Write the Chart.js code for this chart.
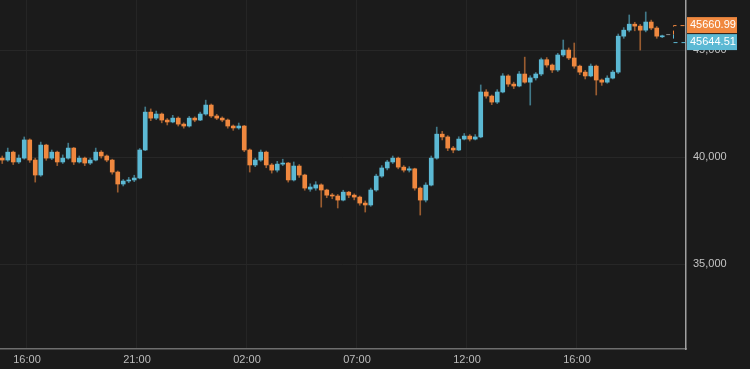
<!DOCTYPE html>
<html>
<head>
<meta charset="utf-8">
<script src="https://cdn.jsdelivr.net/npm/chart.js@4.4.1/dist/chart.umd.min.js"></script>
<style>
  html, body { margin: 0; padding: 0; background: #1b1b1b; }
  #wrap { width: 750px; height: 369px; }
</style>
</head>
<body>
<div id="wrap"><canvas id="myChart" width="750" height="369"></canvas></div>
<script>
// 15 minute candles, time in hours after the first 16:00
let firstCandle = -1.125;
let candleStep = 0.25;

let opens = [
  39950, 39860, 40230, 39770, 39950, 40800, 39860, 39160, 40560, 39950,
  40230, 39770, 39950, 40420, 39770, 39950, 39720, 39860, 40230, 40050,
  39860, 39300, 38740, 38880, 38930, 39020, 40330, 42100, 41820, 42010,
  41730, 41640, 41820, 41540, 41450, 41820, 41730, 42010, 42430, 41920,
  41820, 41730, 41450, 41360, 41450, 40330, 39630, 39860, 40230, 39630,
  39390, 39670, 39720, 38930, 39580, 39160, 38500, 38550, 38700, 38460,
  38220, 38180, 37990, 38360, 38220, 38130, 37850, 37760, 38460, 39110,
  39490, 39770, 39950, 39530, 39390, 39450, 38550, 37990, 38690, 39950,
  41070, 40940, 40420, 40330, 40840, 40980, 40840, 40940, 43040, 42850,
  42570, 43040, 43790, 43410, 43320, 43880, 43500, 43700, 43880, 44550,
  44300, 44070, 44770, 45000, 44630, 44250, 43970, 43790, 44250, 43600,
  43500, 43690, 43970, 45650, 45930, 46210, 46120, 45930, 46310, 46030,
  45620
];

let highs = [
  40050, 40420, 40280, 40100, 40940, 40850, 39950, 40700, 40600, 40330,
  40280, 40100, 40650, 40450, 40050, 40000, 39950, 40420, 40300, 40100,
  39900, 39350, 38950, 39050, 39150, 40400, 42340, 42250, 42150, 42060,
  41800, 41950, 41880, 41600, 41900, 41880, 42100, 42660, 42480, 42000,
  41880, 41780, 41500, 41590, 41480, 40380, 39950, 40330, 40280, 39700,
  39800, 39900, 39750, 39770, 39650, 39200, 38750, 38850, 38750, 38500,
  38300, 38250, 38450, 38400, 38280, 38180, 37950, 38550, 39200, 39600,
  39850, 40050, 40000, 39600, 39550, 39480, 38600, 38800, 40050, 41400,
  41200, 41000, 40500, 40950, 41100, 41050, 41050, 43370, 43150, 42900,
  43150, 43900, 43850, 43500, 44000, 44670, 43800, 43950, 44630, 44650,
  44350, 44850, 45470, 45100, 45330, 44300, 44050, 44350, 44300, 43650,
  43800, 44050, 45750, 46050, 46640, 46300, 46200, 46780, 46400, 46100,
  45700
];

let lows = [
  39700, 39800, 39650, 39700, 39900, 39750, 38830, 39100, 39850, 39880,
  39600, 39700, 39900, 39650, 39720, 39600, 39650, 39820, 39950, 39780,
  39200, 38360, 38650, 38800, 38850, 38980, 40300, 41700, 41750, 41600,
  41500, 41600, 41450, 41350, 41400, 41650, 41700, 41950, 41850, 41750,
  41650, 41350, 41250, 41300, 40250, 39300, 39550, 39800, 39500, 39250,
  39300, 39600, 38830, 38880, 39050, 38450, 38400, 38450, 37660, 38100,
  38050, 37620, 37950, 38100, 38000, 37750, 37430, 37700, 38400, 39050,
  39400, 39700, 39450, 39300, 39300, 38450, 37290, 37900, 38650, 39900,
  40800, 40300, 40200, 40300, 40800, 40750, 40800, 40900, 42750, 42450,
  42500, 43000, 43300, 43200, 43280, 43450, 42430, 43600, 43800, 44200,
  43950, 44000, 44700, 44550, 44150, 43850, 43650, 43750, 42900, 43350,
  43450, 43650, 43900, 45550, 45850, 45900, 45000, 45850, 45950, 45550,
  45580
];

let closes = [
  39860, 40230, 39770, 39950, 40800, 39860, 39160, 40560, 39950, 40230,
  39770, 39950, 40420, 39770, 39950, 39720, 39860, 40230, 40050, 39860,
  39300, 38740, 38880, 38930, 39020, 40330, 42100, 41820, 42010, 41730,
  41640, 41820, 41540, 41450, 41820, 41730, 42010, 42430, 41920, 41820,
  41730, 41450, 41360, 41450, 40330, 39630, 39860, 40230, 39630, 39390,
  39670, 39720, 38930, 39580, 39160, 38550, 38600, 38700, 38460, 38220,
  38180, 37990, 38360, 38220, 38130, 37850, 37760, 38460, 39110, 39490,
  39770, 39950, 39530, 39390, 39450, 38550, 37990, 38690, 39950, 41070,
  40940, 40420, 40330, 40840, 40980, 40840, 40940, 43040, 42850, 42570,
  43040, 43790, 43410, 43320, 43880, 43500, 43700, 43880, 44550, 44300,
  44070, 44770, 45000, 44630, 44250, 43970, 43790, 44250, 43600, 43500,
  43690, 43970, 45650, 45930, 46210, 46120, 45930, 46310, 46030, 45650,
  45645
];

let tickHours = [0, 5, 10, 15, 20, 25];
let tickLabels = ['16:00', '21:00', '02:00', '07:00', '12:00', '16:00'];
let priceTicks = [35000, 40000, 45000];

let askPrice = 45660.99;
let bidPrice = 45644.51;

let upColor = '#5cb9d4';
let downColor = '#f0883f';
let upWick = 'rgba(92, 185, 212, 0.6)';
let downWick = 'rgba(240, 136, 63, 0.6)';

let candleTimes = closes.map((c, i) => firstCandle + i * candleStep);
let isUp = closes.map((c, i) => c >= opens[i]);

let wickData = candleTimes.map((t, i) => ({ x: t, y: [lows[i], highs[i]] }));
let bodyData = candleTimes.map((t, i) => ({
  x: t,
  y: [Math.min(opens[i], closes[i]), Math.max(opens[i], closes[i])],
}));

let background = {
  id: 'background',
  beforeDraw(chart) {
    let c = chart.ctx;
    c.save();
    c.fillStyle = '#1b1b1b';
    c.fillRect(0, 0, chart.width, chart.height);
    c.restore();
  },
};

let priceTags = {
  id: 'priceTags',
  afterDraw(chart) {
    let c = chart.ctx;
    let y = chart.scales.y;
    let x = chart.scales.x;
    let area = chart.chartArea;
    let yMid = (y.getPixelForValue(askPrice) + y.getPixelForValue(bidPrice)) / 2;
    let lastX = x.getPixelForValue(candleTimes[candleTimes.length - 1]);
    let bend = area.right - 13;
    let askY = yMid - 11;
    let bidY = yMid + 6;

    c.save();
    c.lineWidth = 1;
    c.setLineDash([4, 4]);

    c.strokeStyle = '#8a8a8a';
    c.beginPath();
    c.moveTo(lastX + 4, yMid - 1.5);
    c.lineTo(bend, yMid - 1.5);
    c.stroke();

    c.strokeStyle = downColor;
    c.beginPath();
    c.moveTo(bend + 0.5, yMid - 1.5);
    c.lineTo(bend + 0.5, askY + 0.5);
    c.lineTo(area.right, askY + 0.5);
    c.stroke();

    c.strokeStyle = upColor;
    c.beginPath();
    c.moveTo(bend + 0.5, yMid - 1.5);
    c.lineTo(bend + 0.5, bidY + 0.5);
    c.lineTo(area.right, bidY + 0.5);
    c.stroke();
    c.setLineDash([]);

    c.font = '11px "Liberation Sans", Arial, sans-serif';
    c.textBaseline = 'middle';
    c.textAlign = 'left';

    c.fillStyle = downColor;
    c.fillRect(area.right + 1, askY - 8, 50, 16);
    c.fillStyle = '#ffffff';
    c.fillText(askPrice.toFixed(2), area.right + 4, askY);

    c.fillStyle = upColor;
    c.fillRect(area.right + 1, bidY - 8, 50, 16);
    c.fillStyle = '#ffffff';
    c.fillText(bidPrice.toFixed(2), area.right + 4, bidY);
    c.restore();
  },
};

let ctx = document.getElementById('myChart').getContext('2d');
let myChart = new Chart(ctx, {
  type: 'bar',
  data: {
    datasets: [
      {
        label: 'Wick',
        data: wickData,
        backgroundColor: isUp.map((u) => (u ? upWick : downWick)),
        barThickness: 1,
        grouped: false,
        minBarLength: 1,
      },
      {
        label: 'Body',
        data: bodyData,
        backgroundColor: isUp.map((u) => (u ? upColor : downColor)),
        barThickness: 4,
        grouped: false,
        minBarLength: 1,
      },
    ],
  },
  options: {
    responsive: false,
    animation: false,
    devicePixelRatio: 1,
    layout: { padding: 0 },
    plugins: {
      legend: { display: false },
      tooltip: { enabled: false },
    },
    scales: {
      x: {
        type: 'linear',
        min: -1.227,
        max: 29.955,
        offset: false,
        afterBuildTicks(scale) {
          scale.ticks = tickHours.map((v) => ({ value: v }));
        },
        afterFit(scale) {
          scale.height = 20;
          scale.paddingLeft = 0;
          scale.paddingRight = 0;
        },
        ticks: {
          autoSkip: false,
          maxRotation: 0,
          padding: 4,
          color: '#bcbcbc',
          font: { family: '"Liberation Sans Narrow", "Liberation Sans", Arial', size: 11 },
          callback: (v, i) => tickLabels[i],
        },
        grid: {
          offset: false,
          color: '#252525',
          drawTicks: false,
        },
        border: { color: '#6e6e6e', width: 1.5 },
      },
      y: {
        position: 'right',
        min: 31030,
        max: 47340,
        afterBuildTicks(scale) {
          scale.ticks = priceTicks.map((v) => ({ value: v }));
        },
        afterFit(scale) {
          scale.width = 64;
          scale.paddingTop = 0;
          scale.paddingBottom = 0;
        },
        ticks: {
          padding: 7,
          color: '#c4c4c4',
          font: { family: '"Liberation Sans", Arial', size: 11 },
          callback: (v) => v.toLocaleString('en-US'),
        },
        grid: {
          color: '#272727',
          drawTicks: false,
        },
        border: { color: '#a0a0a0', width: 1.5 },
      },
    },
  },
  plugins: [background, priceTags],
});
</script>
</body>
</html>
